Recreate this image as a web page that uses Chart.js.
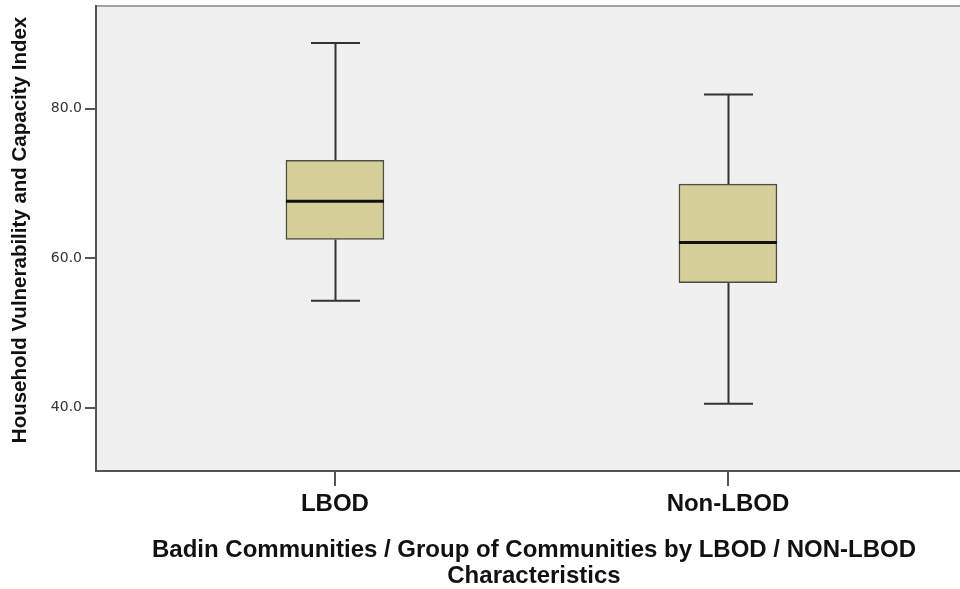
<!DOCTYPE html>
<html>
<head>
<meta charset="utf-8">
<script src="https://cdn.jsdelivr.net/npm/chart.js@4/dist/chart.umd.min.js"></script>
<style>
  html, body { margin: 0; padding: 0; background: #ffffff; overflow: hidden; }
  #wrap { width: 960px; height: 589px; overflow: hidden; }
</style>
</head>
<body>
<div id="wrap"><canvas id="c" width="972" height="589"></canvas></div>
<script>
// Box plot summary per community group
const categories = ['LBOD', 'Non-LBOD'];
const whiskerLow  = [54.3, 40.5];
const quartile1   = [62.5, 56.7];
const medians     = [67.6, 62.1];
const quartile3   = [73.1, 69.9];
const whiskerHigh = [88.8, 81.9];
const yTickValues = [40, 60, 80];

const yTitle = '   Household Vulnerability and Capacity Index';
const xTitleLines = ['Badin Communities / Group of Communities by LBOD / NON-LBOD', 'Characteristics'];

const BOX_WIDTH = 98;

// Plot panel background and frame (the panel runs past the right edge)
const panelPlugin = {
  id: 'panel',
  beforeDraw(chart) {
    const { ctx, chartArea: a } = chart;
    ctx.save();
    ctx.fillStyle = '#ffffff';
    ctx.fillRect(0, 0, chart.width, chart.height);
    ctx.fillStyle = '#f0f0f0';
    ctx.fillRect(a.left, a.top, a.right - a.left, a.bottom - a.top);
    ctx.lineWidth = 2;
    ctx.strokeStyle = '#a3a3a3';
    ctx.beginPath();
    ctx.moveTo(a.left, a.top);
    ctx.lineTo(a.right, a.top);
    ctx.stroke();
    ctx.strokeStyle = '#555555';
    ctx.beginPath();
    ctx.moveTo(a.left, a.top - 1);
    ctx.lineTo(a.left, a.bottom);
    ctx.lineTo(a.right, a.bottom);
    ctx.stroke();
    ctx.restore();
  }
};

// Whiskers (behind the boxes) and medians (on top)
const boxPlotPlugin = {
  id: 'boxparts',
  beforeDatasetsDraw(chart) {
    const { ctx, scales: { x, y } } = chart;
    ctx.save();
    ctx.strokeStyle = '#333333';
    ctx.lineWidth = 2;
    categories.forEach((c, i) => {
      const cx = Math.round(x.getPixelForValue(i + 1)) + 0.5;
      const half = BOX_WIDTH / 4;
      const yHi = y.getPixelForValue(whiskerHigh[i]);
      const yQ3 = y.getPixelForValue(quartile3[i]);
      const yQ1 = y.getPixelForValue(quartile1[i]);
      const yLo = y.getPixelForValue(whiskerLow[i]);
      ctx.beginPath();
      ctx.moveTo(cx, yHi); ctx.lineTo(cx, yQ3);
      ctx.moveTo(cx, yQ1); ctx.lineTo(cx, yLo);
      ctx.moveTo(cx - half, yHi); ctx.lineTo(cx + half, yHi);
      ctx.moveTo(cx - half, yLo); ctx.lineTo(cx + half, yLo);
      ctx.stroke();
    });
    ctx.restore();
  },
  afterDatasetsDraw(chart) {
    const { ctx, scales: { x, y } } = chart;
    ctx.save();
    ctx.strokeStyle = '#111111';
    ctx.lineWidth = 3;
    categories.forEach((c, i) => {
      const cx = x.getPixelForValue(i + 1);
      const ym = y.getPixelForValue(medians[i]);
      ctx.beginPath();
      ctx.moveTo(cx - BOX_WIDTH / 2, ym);
      ctx.lineTo(cx + BOX_WIDTH / 2, ym);
      ctx.stroke();
    });
    ctx.restore();
  }
};

const boxes = categories.map((c, i) => ({ x: i + 1, y: [quartile1[i], quartile3[i]] }));

new Chart(document.getElementById('c'), {
  type: 'bar',
  data: {
    datasets: [{
      data: boxes,
      backgroundColor: '#d4cf98',
      borderColor: '#4d4d42',
      borderWidth: 1.5,
      borderSkipped: false,
      barThickness: BOX_WIDTH
    }]
  },
  options: {
    responsive: false,
    animation: false,
    layout: { padding: { top: 6, left: 0, right: 0, bottom: 0 } },
    plugins: { legend: { display: false }, tooltip: { enabled: false } },
    scales: {
      x: {
        type: 'linear',
        offset: false,
        min: 0.392,
        max: 2.621,
        afterBuildTicks(s) { s.ticks = categories.map((c, i) => ({ value: i + 1 })); },
        afterFit(s) { s.height = 118; s.paddingLeft = 0; s.paddingRight = 0; },
        ticks: {
          callback: v => categories[v - 1],
          autoSkip: false,
          maxRotation: 0,
          padding: 4,
          color: '#111111',
          font: { family: 'Liberation Sans, Arial, sans-serif', weight: 'bold', size: 24 }
        },
        grid: { offset: false, drawOnChartArea: false, tickLength: 15, color: '#555555', lineWidth: 2 },
        border: { display: false },
        title: {
          display: true,
          text: xTitleLines,
          color: '#111111',
          padding: { top: 0, bottom: -1 },
          font: { family: 'Liberation Sans, Arial, sans-serif', weight: 'bold', size: 24, lineHeight: 1.1 }
        }
      },
      y: {
        min: 31.5,
        max: 93.75,
        afterBuildTicks(s) { s.ticks = yTickValues.map(v => ({ value: v })); },
        afterFit(s) { s.width = 96; s.paddingTop = 0; s.paddingBottom = 0; },
        ticks: {
          callback: v => v.toFixed(1),
          padding: 3,
          color: '#333333',
          font: { family: 'DejaVu Sans, sans-serif', size: 14 }
        },
        grid: { drawOnChartArea: false, tickLength: 11, color: '#555555', lineWidth: 2 },
        border: { display: false },
        title: {
          display: true,
          text: yTitle,
          color: '#111111',
          padding: { top: 8, bottom: 0 },
          font: { family: 'Liberation Sans, Arial, sans-serif', weight: 'bold', size: 20.5 }
        }
      }
    }
  },
  plugins: [panelPlugin, boxPlotPlugin]
});
</script>
</body>
</html>
